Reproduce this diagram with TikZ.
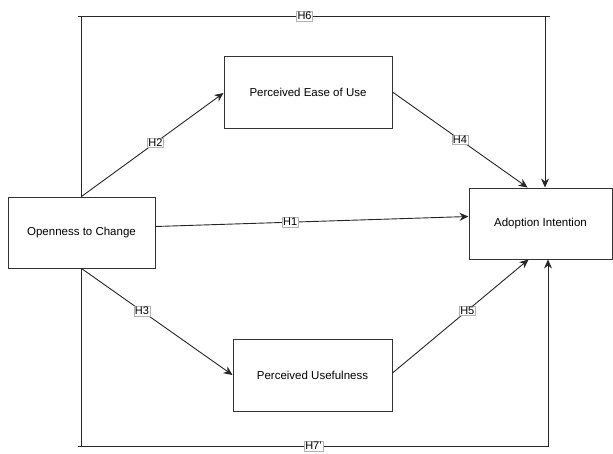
\documentclass[tikz,border=0pt]{standalone}
\usepackage{fontspec}
\setmainfont{Liberation Sans}
\usetikzlibrary{arrows.meta}
\begin{document}
\begin{tikzpicture}[x=1pt,y=-1pt,
  box/.style={draw=black!80,line width=1pt,fill=white,inner sep=0pt,align=center,font=\fontsize{11.5}{13}\selectfont},
  conn/.style={draw=black!85,line width=0.9pt},
  arr/.style={conn,-{Stealth[length=9pt,width=8pt]}},
  lab/.style={draw=black!30,line width=0.4pt,fill=white,inner sep=1pt,font=\fontsize{11}{12}\selectfont}]
\useasboundingbox (0,0) rectangle (613,453);
\node[box,minimum width=147pt,minimum height=71pt] (oc) at (81.5,232.5) {Openness to Change};
\node[box,minimum width=168pt,minimum height=72pt] (pe) at (308,92) {Perceived Ease of Use};
\node[box,minimum width=143pt,minimum height=71pt] (ai) at (540.5,223.5) {Adoption Intention};
\node[box,minimum width=159pt,minimum height=72pt] (pu) at (312.5,375) {Perceived Usefulness};
% H6
\coordinate (h6a) at (78,16);
\coordinate (h6b) at (550,16);
\coordinate (h6l) at (81.5,16);
\coordinate (h6r) at (545,16);
\draw[conn] (h6a) -- node[lab,pos=0.48] {H6} (h6b);
\draw[conn] (oc.north) -- (h6l);
\draw[arr] (h6r) -- (h6r |- ai.north);
% H7
\coordinate (h7a) at (78,446);
\coordinate (h7b) at (549,446);
\coordinate (h7l) at (81.5,446);
\coordinate (h7r) at (548,446);
\draw[conn] (h7a) -- node[lab,pos=0.50] {H7'} (h7b);
\draw[conn] (oc.south) -- (h7l);
\draw[arr] (h7r) -- (h7r |- ai.south);
% H1-H5
\draw[arr] ([yshift=6pt]oc.east) -- node[lab,pos=0.43] {H1} ([yshift=7pt]ai.west);
\draw[arr] (oc.north) -- node[lab,pos=0.52] {H2} ([yshift=-1pt]pe.west);
\draw[arr] (pe.east) -- node[lab,pos=0.5] {H4} ([xshift=-13pt]ai.north);
\draw[arr] (oc.south) -- node[lab,pos=0.4] {H3} (pu.west);
\draw[arr] ([yshift=2pt]pu.east) -- node[lab,pos=0.55] {H5} ([xshift=-12pt]ai.south);
\end{tikzpicture}
\end{document}
